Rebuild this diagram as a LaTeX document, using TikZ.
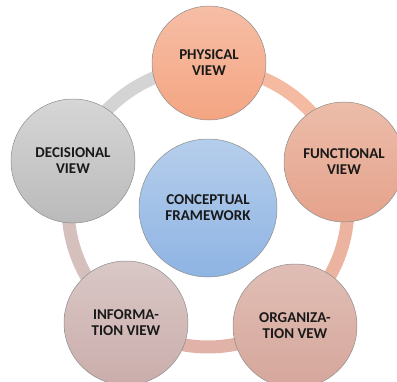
\documentclass[tikz,border=0pt]{standalone}
\usepackage{fontspec}
\setmainfont{Carlito}
\definecolor{physTop}{RGB}{246,190,166}
\definecolor{physBot}{RGB}{244,165,130}
\definecolor{funcTop}{RGB}{236,189,170}
\definecolor{funcBot}{RGB}{229,162,139}
\definecolor{orgaTop}{RGB}{224,190,181}
\definecolor{orgaBot}{RGB}{214,166,155}
\definecolor{infoTop}{RGB}{217,200,198}
\definecolor{infoBot}{RGB}{202,173,171}
\definecolor{deciTop}{RGB}{214,214,214}
\definecolor{deciBot}{RGB}{186,186,186}
\definecolor{concTop}{RGB}{182,206,236}
\definecolor{concBot}{RGB}{142,180,227}
\tikzset{every picture/.style={line width=0.75pt}}
\tikzset{
  view/.style={circle, draw={rgb, 255:red, 140; green, 140; blue, 140}, line width=0.5pt, inner sep=0pt, minimum size=124pt, align=center, text={rgb, 255:red, 25; green, 25; blue, 25}, font=\fontsize{15}{16}\selectfont\bfseries},
  ring/.style={line width=13pt}
}

\begin{document}
\begin{tikzpicture}[x=1pt,y=1pt,yscale=-1,xscale=1]
\useasboundingbox (0,0) rectangle (397,381);
\clip (0,0) rectangle (397,381);

\coordinate (hub) at (208,207);

%Ring: physical to functional
\draw [ring, color={rgb, 255:red, 244; green, 187; blue, 162 }] (hub) ++(-90:140) arc (-90:-18:140);
%Ring: functional to organization
\draw [ring, color={rgb, 255:red, 236; green, 180; blue, 160 }] (hub) ++(-18:140) arc (-18:56:140);
%Ring: organization to information
\draw [ring, color={rgb, 255:red, 224; green, 178; blue, 168 }] (hub) ++(56:140) arc (56:125:140);
%Ring: information to decisional
\draw [ring, color={rgb, 255:red, 214; green, 192; blue, 190 }] (hub) ++(125:140) arc (125:199:140);
%Ring: decisional to physical
\draw [ring, color={rgb, 255:red, 212; green, 212; blue, 212 }] (hub) ++(199:140) arc (199:270:140);

%Shape: Circle
\node [view, minimum size=114pt, top color=physTop, bottom color=physBot] (physical) at (209,63) {PHYSICAL\\VIEW};
%Shape: Circle
\node [view, minimum size=120pt, top color=funcTop, bottom color=funcBot] (functional) at (344,162) {FUNCTIONAL\\VIEW};
%Shape: Circle
\node [view, top color=orgaTop, bottom color=orgaBot] (organization) at (295,326) {ORGANIZA-\\TION VEW};
%Shape: Circle
\node [view, top color=infoTop, bottom color=infoBot] (information) at (126,323) {INFORMA-\\TION VIEW};
%Shape: Circle
\node [view, top color=deciTop, bottom color=deciBot] (decisional) at (73,161) {DECISIONAL\\VIEW};
%Shape: Circle
\node [view, minimum size=138pt, top color=concTop, bottom color=concBot] (conceptual) at (208,208) {CONCEPTUAL\\FRAMEWORK};

\end{tikzpicture}
\end{document}
